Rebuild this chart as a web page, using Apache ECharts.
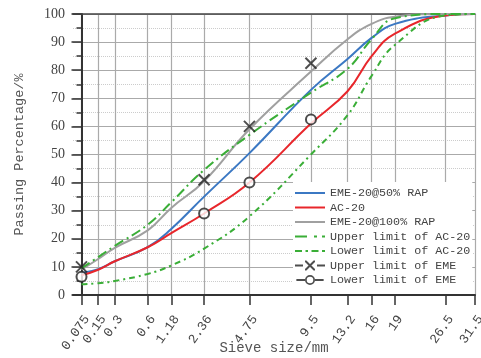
<!DOCTYPE html>
<html>
<head>
<meta charset="utf-8">
<script src="https://cdn.jsdelivr.net/npm/echarts@6/dist/echarts.min.js"></script>
<style>html,body{margin:0;padding:0;background:#fff}#c{width:481px;height:358px}</style>
</head>
<body>
<div id="c"></div>
<script>
// ---- data ----
const sieves = [0.075, 0.15, 0.3, 0.6, 1.18, 2.36, 4.75, 9.5, 13.2, 16, 19, 26.5, 31.5];
const sieveLabels = ['0.075', '0.15', '0.3', '0.6', '1.18', '2.36', '4.75', '9.5', '13.2', '16', '19', '26.5', '31.5'];
const eme50 = [7.8, 9.2, 12, 17, 23.5, 35, 50.5, 73, 84, 91.5, 96.5, 99.5, 100];
const ac20 = [7, 9, 12, 17, 22, 29, 40, 61, 72.5, 85, 93, 99.5, 100];
const eme100 = [9, 12.8, 16.8, 23, 31, 40.5, 59, 79.5, 91, 96.5, 99, 100, 100];
const acUpper = [9.5, 13.5, 17.5, 25, 33, 44.5, 57, 72, 80.5, 91, 98.5, 100, 100];
const acLower = [3.8, 4.2, 5, 7.5, 10.5, 16.5, 28, 50, 64, 78, 89, 99.5, 100];
const emeSieves = [0.075, 2.36, 4.75, 9.5];
const emeUpper = [10, 41, 60, 82.5];
const emeLower = [6.5, 29, 40, 62.5];
const seriesNames = ['EME-20@50% RAP', 'AC-20', 'EME-20@100% RAP', 'Upper limit of AC-20',
  'Lower limit of AC-20', 'Upper limit of EME', 'Lower limit of EME'];

// ---- gradation axis scale: 0.45 power for d >= 0.6, log-spread fine sieves ----
function sieveAxis(d) {
  if (d >= 0.6) return Math.pow(d, 0.45);
  return 0.2 * Math.log2(d / 0.075);
}
const tickVals = sieves.map(sieveAxis);
const xMin = -0.102, xMax = sieveAxis(31.5);
function labelFor(v) {
  let best = 0, bd = Infinity;
  tickVals.forEach((t, i) => { const dd = Math.abs(t - v); if (dd < bd) { bd = dd; best = i; } });
  return sieveLabels[best];
}
const pts = (xs, ys) => xs.map((d, i) => [sieveAxis(d), ys[i]]);

const mono = 'Liberation Mono';
const serif = 'Liberation Serif';
const lineIcon = 'path://M0,4L30,4L30,6L0,6Z';
const upIcon = 'path://M0,4h12v2h-12zM19,4h3v2h-3zM27,4h3v2h-3z';
const loIcon = 'path://M0,4h7v2h-7zM10.5,4h2.5v2h-2.5zM16.5,4h7v2h-7zM27,4h3v2h-3z';
const xIcon = 'path://M0,4h8v2h-8zM22,4h8v2h-8zM10,0L11.4,0L20,8.6L20,10L18.6,10L10,1.4ZM18.6,0L20,0L20,1.4L11.4,10L10,10L10,8.6Z';
const oIcon = 'path://M0,4h9.5v2h-9.5zM20.5,4h9.5v2h-9.5zM20.5,5A5.5,5.5,0,1,1,9.5,5A5.5,5.5,0,1,1,20.5,5ZM18.6,5A3.6,3.6,0,1,0,11.4,5A3.6,3.6,0,1,0,18.6,5Z';

const chart = echarts.init(document.getElementById('c'), null, {renderer: 'canvas'});
const baseLine = (name, data, color, type) => ({
  name, type: 'line', data, smooth: 0.45, symbol: 'none', showSymbol: false,
  itemStyle: {color},
  lineStyle: {color, width: 2, type: type || 'solid'}
});
chart.setOption({
  animation: false,
  backgroundColor: '#fff',
  grid: {left: 73, right: 6, top: 14, bottom: 63, show: false, containLabel: false, outerBoundsMode: 'none'},
  legend: {
    orient: 'vertical', left: 293, top: 182, padding: [4, 2, 7, 2],
    itemWidth: 30, itemHeight: 10, itemGap: 0.5,
    backgroundColor: '#fff',
    itemStyle: {borderWidth: 0},
    textStyle: {fontFamily: mono, fontSize: 11.7, color: '#444', lineHeight: 14},
    data: [
      {name: seriesNames[0], icon: lineIcon},
      {name: seriesNames[1], icon: lineIcon},
      {name: seriesNames[2], icon: lineIcon},
      {name: seriesNames[3], icon: upIcon},
      {name: seriesNames[4], icon: loIcon},
      {name: seriesNames[5], icon: xIcon, itemStyle: {color: '#222', borderWidth: 0}},
      {name: seriesNames[6], icon: oIcon, itemStyle: {color: '#222', borderWidth: 0}}
    ]
  },
  xAxis: [{
    type: 'value', min: xMin, max: xMax,
    axisLine: {show: true, onZero: false, lineStyle: {color: '#333', width: 2}},
    axisTick: {show: true, customValues: tickVals, length: 10, inside: false, lineStyle: {color: '#333', width: 1.5}},
    axisLabel: {customValues: tickVals, rotate: 55, formatter: labelFor, fontFamily: mono, fontSize: 13,
      color: '#444', margin: 18, verticalAlign: 'top'},
    splitLine: {show: true, lineStyle: {color: '#aaa', width: 1.2}},
    name: 'Sieve size/mm', nameLocation: 'middle', nameGap: 46, nameMoveOverlap: false,
    nameTextStyle: {fontFamily: mono, fontSize: 14, color: '#555'}
  }, {
    type: 'value', position: 'top', min: xMin, max: xMax,
    axisLine: {show: true, onZero: false, lineStyle: {color: '#444', width: 1.5}},
    axisTick: {show: false}, axisLabel: {show: false}, splitLine: {show: false}
  }],
  yAxis: {
    type: 'value', min: 0, max: 100, interval: 10,
    axisLine: {show: true, lineStyle: {color: '#333', width: 2}},
    axisTick: {show: true, length: 10, lineStyle: {color: '#333', width: 1.5}},
    minorTick: {show: true, splitNumber: 2, length: 5, lineStyle: {color: '#333', width: 1.5}},
    minorSplitLine: {show: true, lineStyle: {color: '#ccc', type: 'dotted', width: 1}},
    splitLine: {show: true, lineStyle: {color: '#aaa', width: 1.2}},
    axisLabel: {fontFamily: serif, fontSize: 14, color: '#444', margin: 8},
    name: 'Passing Percentage/%', nameLocation: 'middle', nameGap: 47, nameMoveOverlap: false,
    nameTextStyle: {fontFamily: mono, fontSize: 13.5, color: '#555'}
  },
  series: [
    baseLine(seriesNames[0], pts(sieves, eme50), '#3b78c3'),
    baseLine(seriesNames[1], pts(sieves, ac20), '#e8262b'),
    baseLine(seriesNames[2], pts(sieves, eme100), '#a0a0a0'),
    baseLine(seriesNames[3], pts(sieves, acUpper), '#3aae37', [10, 4, 2, 4]),
    baseLine(seriesNames[4], pts(sieves, acLower), '#3aae37', [6, 4, 2, 4]),
    {
      name: seriesNames[5], type: 'scatter', data: pts(emeSieves, emeUpper),
      symbol: 'path://M0,0L10,10M10,0L0,10', symbolSize: 11,
      itemStyle: {color: '#222', borderColor: '#222', borderWidth: 2}, z: 5
    },
    {
      name: seriesNames[6], type: 'scatter', data: pts(emeSieves, emeLower),
      symbol: 'emptyCircle', symbolSize: 10,
      itemStyle: {color: '#222', borderWidth: 2}, z: 5
    }
  ]
});
</script>
</body>
</html>
